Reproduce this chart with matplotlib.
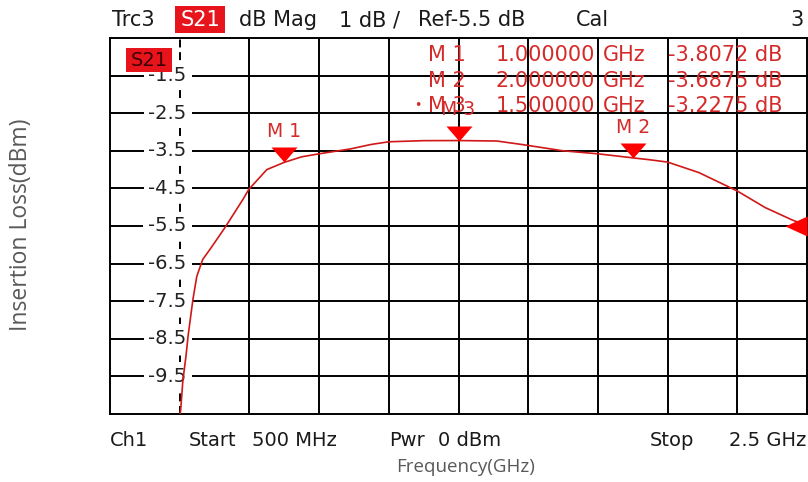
import numpy as np
import matplotlib.pyplot as plt
from matplotlib.patches import Rectangle

# S21 trace (Trc3), frequency in GHz, magnitude in dB
freq_ghz = [0.695, 0.703, 0.709, 0.718, 0.724, 0.738, 0.749, 0.766, 0.787, 0.830,
            0.881, 0.898, 0.950, 1.000, 1.050, 1.100, 1.190, 1.250, 1.300, 1.400,
            1.500, 1.610, 1.680, 1.800, 1.900, 2.000, 2.050, 2.100, 2.190, 2.300,
            2.380, 2.460, 2.500]
s21_db = [-11.0, -10.37, -9.62, -8.96, -8.43, -7.45, -6.84, -6.39, -6.12, -5.54,
          -4.80, -4.53, -4.00, -3.807, -3.66, -3.58, -3.45, -3.33, -3.26, -3.23,
          -3.2275, -3.24, -3.33, -3.50, -3.58, -3.6875, -3.74, -3.80, -4.08, -4.57,
          -5.01, -5.35, -5.48]

marker_names = ['M 1', 'M 2', 'M 3']
marker_freq = [1.0, 2.0, 1.5]
marker_db = [-3.8072, -3.6875, -3.2275]

ref_level = -5.5
db_per_div = 1.0
start_ghz, stop_ghz = 0.5, 2.5

W, H = 808, 482
VNA_FONT = 'DejaVu Sans'
TRACE_RED = '#d01818'
TEXT_RED = '#d42a2a'


def fx(x):
    return x / W


def fy(y):
    return 1 - y / H


fig = plt.figure(figsize=(W / 100, H / 100), dpi=100)
ax = fig.add_axes([fx(110), fy(414), fx(807) - fx(110), fy(38) - fy(414)])
ax.set_xlim(start_ghz, stop_ghz)
ax.set_ylim(ref_level - 5 * db_per_div, ref_level + 5 * db_per_div)
ax.set_xticks([])
ax.set_yticks([])
for sp in ax.spines.values():
    sp.set_linewidth(1.4)
    sp.set_color('black')

# 10 x 10 graticule, second column holds the scale labels (dashed)
xdiv = np.linspace(start_ghz, stop_ghz, 11)
ydiv = np.linspace(ref_level - 5 * db_per_div, ref_level + 5 * db_per_div, 11)
scale_x = xdiv[1]
for x in xdiv[2:-1]:
    ax.axvline(x, color='black', lw=1.4, zorder=1)
ax.axvline(scale_x, color='black', lw=1.4, ls=(0, (4.1, 2.4)), zorder=1)
for y in ydiv[1:-1]:
    ax.axhline(y, color='black', lw=1.4, zorder=1)

for y in ydiv[1:-1]:
    ax.annotate(f'{y:.1f}', (scale_x, y), xytext=(5, 0), textcoords='offset points',
                ha='right', va='center', fontsize=14, family=VNA_FONT, color='#222222',
                bbox=dict(boxstyle='square,pad=0.25', fc='white', ec='none'), zorder=2)

ax.plot(freq_ghz, s21_db, color=TRACE_RED, lw=1.2, zorder=3)

# marker triangles, tip sitting on the trace
down_tri = [(-13, 15), (13, 15), (0, 0)]
ax.plot(marker_freq, marker_db, ls='none', marker=down_tri, ms=21.6,
        color='#ff0000', mew=0, zorder=4)
for name, f, v in zip(marker_names, marker_freq, marker_db):
    ax.annotate(name, (f, v), xytext=(0, 22), textcoords='offset points',
                ha='center', va='center', fontsize=13.5, family=VNA_FONT,
                color=TEXT_RED, zorder=5)

# reference level arrow, pointing in from the right edge
left_tri = [(-22, 0), (0, -10), (0, 10)]
ax.plot([stop_ghz], [ref_level], marker=left_tri, ms=31.7, color='#ff0000',
        mew=0, clip_on=False, zorder=4)

# marker readout table
row_y = [55, 81, 106]
for name, f, v, y in zip(marker_names, marker_freq, marker_db, row_y):
    kw = dict(fontsize=15, family=VNA_FONT, color=TEXT_RED, va='center', zorder=5)
    fig.text(fx(428), fy(y), name, ha='left', **kw)
    fig.text(fx(595), fy(y), f'{f:.6f}', ha='right', **kw)
    fig.text(fx(603), fy(y), 'GHz', ha='left', **kw)
    fig.text(fx(668), fy(y), f'{v:.4f} dB', ha='left', **kw)
fig.text(fx(418), fy(row_y[2]), '\u2022', ha='center', va='center', fontsize=9,
         family=VNA_FONT, color=TEXT_RED)

# trace label inside the diagram
fig.patches.append(Rectangle((fx(126), fy(72)), fx(172) - fx(126), fy(48) - fy(72),
                             transform=fig.transFigure, fc='#e8141b', ec='none', zorder=3))
fig.text(fx(149), fy(60), 'S21', ha='center', va='center', fontsize=14,
         family=VNA_FONT, color='#3a0000', zorder=6)

# header line
hdr = dict(fontsize=15, family=VNA_FONT, color='#1a1a1a', va='center')
fig.text(fx(112), fy(20), 'Trc3', ha='left', **hdr)
fig.patches.append(Rectangle((fx(175), fy(33)), fx(225) - fx(175), fy(6) - fy(33),
                             transform=fig.transFigure, fc='#e8141b', ec='none'))
fig.text(fx(200), fy(20), 'S21', ha='center', fontsize=15, family=VNA_FONT,
         color='white', va='center')
fig.text(fx(239), fy(20), 'dB Mag', ha='left', **hdr)
fig.text(fx(339), fy(20), f'{db_per_div:g} dB /', ha='left', **hdr)
fig.text(fx(418), fy(20), f'Ref{ref_level:g} dB', ha='left', **hdr)
fig.text(fx(576), fy(20), 'Cal', ha='left', **hdr)
fig.text(fx(804), fy(20), '3', ha='right', **hdr)

# footer line
ftr = dict(fontsize=14, family=VNA_FONT, color='#1a1a1a', va='center')
fig.text(fx(110), fy(440), 'Ch1', ha='left', **ftr)
fig.text(fx(189), fy(440), 'Start', ha='left', **ftr)
fig.text(fx(252), fy(440), f'{start_ghz * 1000:.0f} MHz', ha='left', **ftr)
fig.text(fx(389), fy(440), 'Pwr', ha='left', **ftr)
fig.text(fx(438), fy(440), '0 dBm', ha='left', **ftr)
fig.text(fx(650), fy(440), 'Stop', ha='left', **ftr)
fig.text(fx(806), fy(440), f'{stop_ghz:g} GHz', ha='right', **ftr)

# axis titles
fig.text(fx(466), fy(467), 'Frequency(GHz)', ha='center', va='center',
         fontsize=13.5, family='Open Sans', color='#595959')
fig.text(fx(21), fy(225), 'Insertion Loss(dBm)', ha='center', va='center',
         rotation=90, fontsize=16.5, family='Open Sans', color='#595959')

fig.savefig('out.png', dpi=100, facecolor='white')
